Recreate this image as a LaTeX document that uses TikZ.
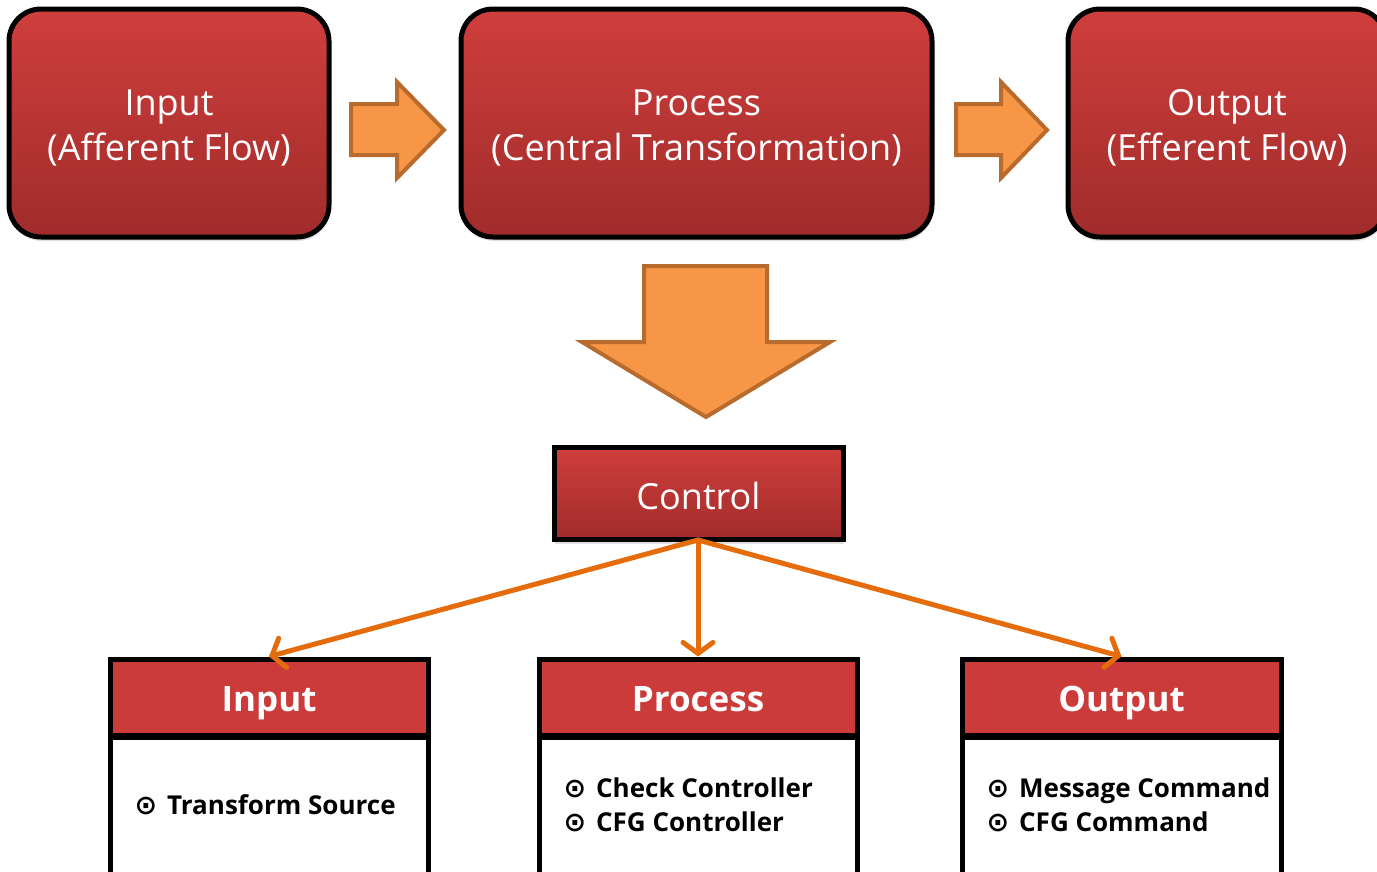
\documentclass[tikz,border=0pt]{standalone}
\usepackage{fontspec}
\setmainfont{Open Sans}
\newfontfamily\symfont{DejaVu Sans}
\usetikzlibrary{arrows.meta,shadows}
\definecolor{redtop}{HTML}{CF3E3C}
\definecolor{redbot}{HTML}{A02C2B}
\definecolor{redhead}{HTML}{CB3B3A}
\definecolor{orangefill}{HTML}{F79646}
\definecolor{orangeedge}{HTML}{B96B2E}
\definecolor{orangeline}{HTML}{E46C0A}
\tikzset{
  x=1pt, y=-1pt,
  redbox/.style={draw=black, line width=5pt, top color=redtop, bottom color=redbot,
    drop shadow={shadow xshift=1pt, shadow yshift=-4pt, opacity=0.25}},
  roundbox/.style={redbox, rounded corners=32pt},
  boxtext/.style={text=white, align=center, font=\fontsize{36}{45}\selectfont},
  blockarrow/.style={fill=orangefill, draw=orangeedge, line width=4pt, line join=miter},
  headbox/.style={draw=black, line width=5pt, fill=redhead, inner sep=0pt},
  headtext/.style={text=white, font=\bfseries\fontsize{35}{40}\selectfont,
    text height=26pt, text depth=6pt, inner sep=0pt},
  bodybox/.style={draw=black, line width=5pt, fill=white, inner sep=0pt},
  itemtext/.style={font=\bfseries\fontsize{26}{34}\selectfont, align=left, anchor=west},
  link/.style={draw=orangeline, line width=5pt, line cap=round,
    -{Straight Barb[length=11pt,width=30pt,line cap=round]}},
}
\newcommand{\bul}{{\symfont\fontsize{27}{34}\selectfont ⊙}\hspace{10pt}}
\begin{document}
\begin{tikzpicture}
\useasboundingbox (0,0) rectangle (1377,871);
\clip (0,0) rectangle (1377,871);

% top row: the three stages of the transform flow
\node[roundbox, minimum width=320pt, minimum height=228pt] (tin) at (169,123) {};
\node[roundbox, minimum width=471pt, minimum height=228pt] (tproc) at (696.5,123) {};
\node[roundbox, minimum width=318pt, minimum height=228pt] (tout) at (1227,123) {};
\node[boxtext] (tin-t) at ([yshift=-5pt]tin.center) {Input\\(Afferent Flow)};
\node[boxtext] (tproc-t) at ([yshift=-5pt]tproc.center) {Process\\(Central Transformation)};
\node[boxtext] (tout-t) at ([yshift=-5pt]tout.center) {Output\\(Efferent Flow)};

% block arrows between the stages
\draw[blockarrow] (351,104) -- (397,104) -- (397,82) -- (444,130) -- (397,178)
  -- (397,155) -- (351,155) -- cycle;
\draw[blockarrow] (956,104) -- (1001,104) -- (1001,82) -- (1047,130) -- (1001,178)
  -- (1001,155) -- (956,155) -- cycle;

% large down arrow towards the control node
\draw[blockarrow] (644,266) -- (767,266) -- (767,342) -- (830,342) -- (706,417)
  -- (582,342) -- (644,342) -- cycle;

% control node
\node[redbox, minimum width=289pt, minimum height=92pt] (ctrl) at (698.5,493.5) {};
\node[boxtext] (ctrl-t) at ([yshift=-2pt]ctrl.center) {Control};
\coordinate (fan) at (698,540);

% bottom row: headers and bodies
\node[headbox, minimum width=318pt, minimum height=76pt] (hin) at (269,697) {};
\node[headbox, minimum width=318pt, minimum height=76pt] (hproc) at (698,697) {};
\node[headbox, minimum width=319pt, minimum height=76pt] (hout) at (1121.5,697) {};
\node[headtext] (hin-t) at ([yshift=-4pt]hin.center) {Input};
\node[headtext] (hproc-t) at ([yshift=-4pt]hproc.center) {Process};
\node[headtext] (hout-t) at ([yshift=-4pt]hout.center) {Output};

\node[bodybox, anchor=north, minimum width=318pt, minimum height=160pt] (bin) at ([yshift=2.5pt]hin.south) {};
\node[bodybox, anchor=north, minimum width=318pt, minimum height=160pt] (bproc) at ([yshift=2.5pt]hproc.south) {};
\node[bodybox, anchor=north, minimum width=319pt, minimum height=160pt] (bout) at ([yshift=2.5pt]hout.south) {};

\node[itemtext] (lin) at (131,805) {\bul Transform Source};
\node[itemtext] (lproc) at (560,805) {\bul Check Controller\\\bul CFG Controller};
\node[itemtext] (lout) at (983,805) {\bul Message Command\\\bul CFG Command};

% control connectors
\draw[link] (fan) -- (hin.north);
\draw[link] (fan) -- (hproc.north);
\draw[link] (fan) -- (hout.north);
\end{tikzpicture}
\end{document}
